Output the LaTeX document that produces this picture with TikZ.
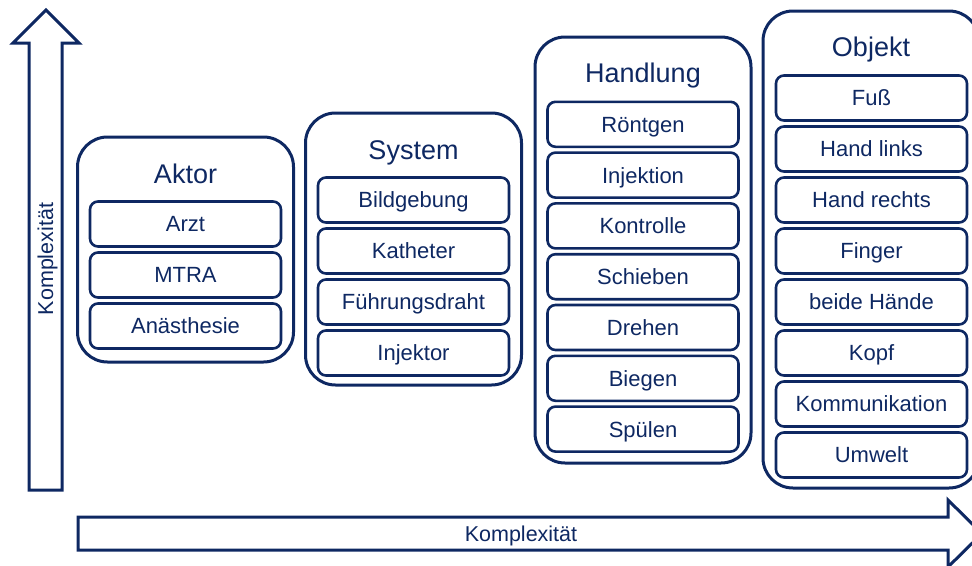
\documentclass[tikz,border=0pt]{standalone}
\usepackage{fontspec}
\setmainfont{Liberation Sans}
\usetikzlibrary{positioning}
\definecolor{navy}{RGB}{14,40,98}

\tikzset{
	groupbox/.style={draw=navy, line width=3pt, rounded corners=30pt, minimum width=216pt},
	itembox/.style={draw=navy, line width=2.6pt, rounded corners=8pt, minimum width=191pt, minimum height=45pt, text=navy, text height=15.8pt, text depth=0pt, font=\fontsize{22}{26}\selectfont},
	grouptitle/.style={text=navy, text height=19.4pt, text depth=0pt, font=\fontsize{27}{32}\selectfont},
	bigarrow/.style={draw=navy, line width=3pt, fill=white},
	axislabel/.style={text=navy, text height=15.4pt, text depth=0pt, font=\fontsize{21.5}{26}\selectfont}
}

\begin{document}
\begin{tikzpicture}[x=1pt, y=-1pt]
		%%%%% START %%%%%
		\useasboundingbox (0,0) rectangle (972,565);
		
		% axes
		\draw[bigarrow] (29,490) -- (29,43) -- (13,43) -- (46,10) -- (79,43) -- (62,43) -- (62,490) -- cycle;
		\node[axislabel, rotate=90] (ylabel) at (45.5,259) {Komplexität};
		\draw[bigarrow] (78,517) -- (948,517) -- (948,500) -- (982,533.5) -- (948,567) -- (948,550) -- (78,550) -- cycle;
		\node[axislabel] (xlabel) at (521,533.5) {Komplexität};
		
		% groups
		\node[groupbox, minimum height=225pt] (aktor) at (185.5,249.5) {};
		\node[groupbox, minimum height=272pt] (system) at (413.5,249) {};
		\node[groupbox, minimum height=426pt] (handlung) at (643,250) {};
		\node[groupbox, minimum height=477pt] (objekt) at (871,249.5) {};
		
		\node[grouptitle] (aktor-t) at (185.5,174) {Aktor};
		\node[grouptitle] (system-t) at (413.5,150) {System};
		\node[grouptitle] (handlung-t) at (643,73) {Handlung};
		\node[grouptitle] (objekt-t) at (871,47) {Objekt};
		
		% items
		\foreach \txt [count=\i] in {Arzt, MTRA, Anästhesie}
			\node[itembox] (aktor-\i) at (185.5,{173+51*\i}) {\txt};
		\foreach \txt [count=\i] in {Bildgebung, Katheter, Führungsdraht, Injektor}
			\node[itembox] (system-\i) at (413.5,{149+51*\i}) {\txt};
		\foreach \txt [count=\i] in {Röntgen, Injektion, Kontrolle, Schieben, Drehen, Biegen, Spülen}
			\node[itembox] (handlung-\i) at (643,{73.5+50.8*\i}) {\txt};
		\foreach \txt [count=\i] in {Fuß, Hand links, Hand rechts, Finger, beide Hände, Kopf, Kommunikation, Umwelt}
			\node[itembox] (objekt-\i) at (871.5,{47+51*\i}) {\txt};
		
		%%%%% END %%%%%
\end{tikzpicture}
\end{document}
